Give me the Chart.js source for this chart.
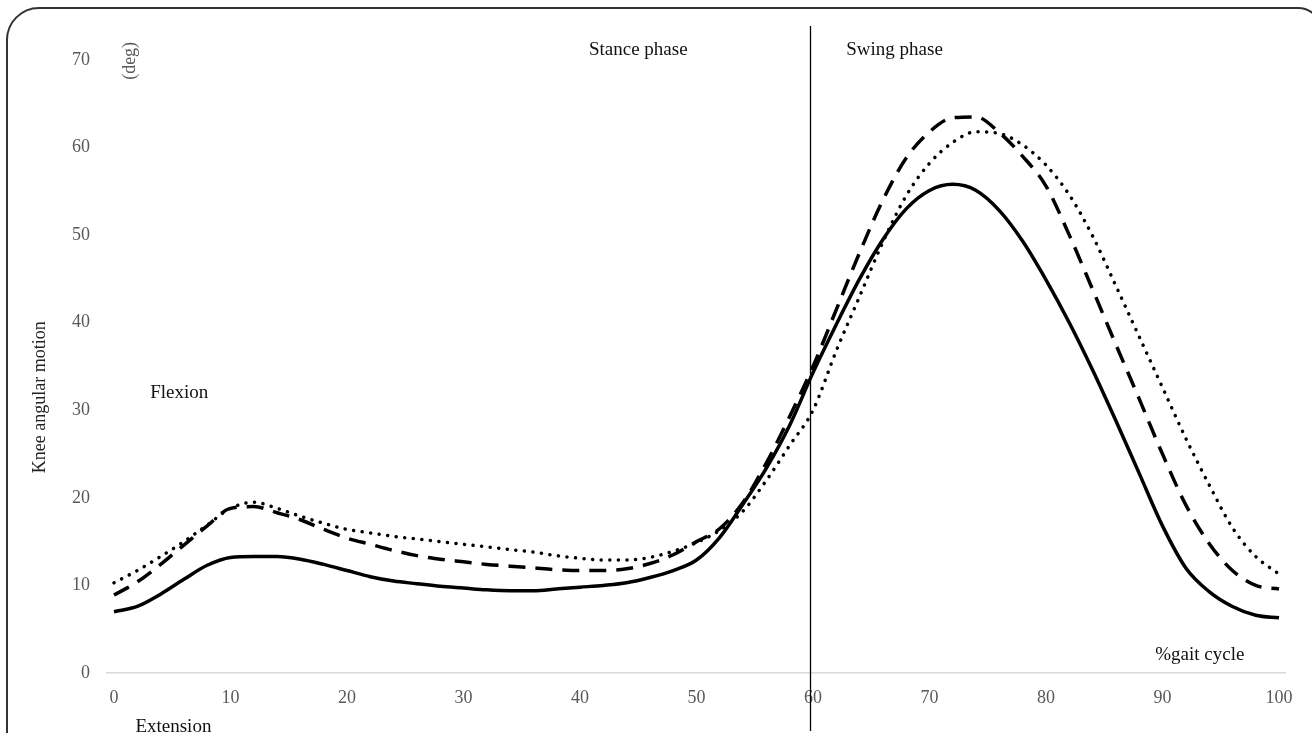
<!DOCTYPE html>
<html>
<head>
<meta charset="utf-8">
<title>Knee angular motion</title>
<script src="https://cdn.jsdelivr.net/npm/chart.js@4.4.1/dist/chart.umd.min.js"></script>
<style>
  html, body { margin: 0; padding: 0; background: #fff; }
  #wrap { position: relative; width: 1312px; height: 733px; }
</style>
</head>
<body>
<div id="wrap">
  <canvas id="chart" width="1312" height="733" aria-label="Knee angular motion"></canvas>
</div>
<script>
// % gait cycle
const gaitPct = [0, 2, 4, 6, 8, 10, 12, 14, 16, 18, 20, 22, 24, 26, 28, 30, 32, 34, 36, 38, 40,
  42, 44, 46, 48, 50, 52, 54, 56, 58, 60, 62, 64, 66, 68, 70, 72, 74, 76, 78, 80,
  82, 84, 86, 88, 90, 92, 94, 96, 98, 100];

// knee angle (deg)
const solidLine = [7.0, 7.6, 9.0, 10.7, 12.3, 13.2, 13.3, 13.3, 13.0, 12.4, 11.7,
  11.0, 10.5, 10.2, 9.9, 9.7, 9.5, 9.4, 9.4, 9.6, 9.8,
  10.0, 10.3, 10.9, 11.7, 12.9, 15.5, 19.3, 23.4, 28.3, 34.3,
  39.8, 45.0, 49.5, 53.0, 55.1, 55.8, 55.1, 52.8, 49.3, 44.9,
  40.0, 34.6, 28.8, 22.8, 16.8, 12.0, 9.3, 7.6, 6.6, 6.3];

const dashedLine = [8.9, 10.4, 12.4, 14.6, 16.8, 18.8, 19.0, 18.3, 17.5, 16.4, 15.4,
  14.7, 14.0, 13.4, 13.0, 12.7, 12.4, 12.2, 12.0, 11.8, 11.7,
  11.7, 11.9, 12.5, 13.5, 15.0, 16.5, 19.5, 24.0, 29.3, 35.0,
  41.5, 48.0, 54.0, 58.8, 61.8, 63.4, 63.5, 61.7, 59.0, 55.6,
  50.0, 43.8, 37.5, 31.3, 25.0, 19.2, 14.8, 11.7, 10.0, 9.6];

const dottedLine = [10.3, 11.7, 13.3, 15.0, 16.9, 18.8, 19.5, 18.8, 17.9, 17.1, 16.4,
  16.0, 15.6, 15.3, 15.0, 14.7, 14.4, 14.1, 13.8, 13.4, 13.1,
  12.9, 12.9, 13.2, 13.9, 14.9, 16.3, 18.5, 22.0, 26.0, 30.0,
  36.8, 43.0, 49.2, 54.5, 58.2, 60.6, 61.8, 61.6, 60.3, 58.0,
  54.6, 49.9, 44.2, 38.4, 32.6, 26.8, 21.5, 16.6, 13.3, 11.3];

const xTickValues = [0, 10, 20, 30, 40, 50, 60, 70, 80, 90, 100];
const yTickValues = [0, 10, 20, 30, 40, 50, 60, 70];
const phaseBoundary = 59.7; // stance / swing divider as drawn

const SERIF = '"Liberation Serif", "Times New Roman", serif';

function toPoints(ys) {
  return gaitPct.map((x, i) => ({ x: x, y: ys[i] }));
}

function lineDataset(label, ys, dash, cap) {
  return {
    label: label,
    data: toPoints(ys),
    borderColor: '#000',
    borderWidth: 3.5,
    borderDash: dash,
    borderCapStyle: cap,
    borderJoinStyle: 'round',
    pointRadius: 0,
    cubicInterpolationMode: 'monotone',
    fill: false,
  };
}

// frame, phase divider and free text
const decorations = {
  id: 'decorations',
  beforeDraw(chart) {
    const ctx = chart.ctx;
    ctx.save();
    ctx.strokeStyle = '#333';
    ctx.lineWidth = 2;
    ctx.beginPath();
    ctx.moveTo(7, 760);
    ctx.lineTo(7, 40);
    ctx.arcTo(7, 8, 39, 8, 32);
    ctx.lineTo(1298, 8);
    ctx.arcTo(1322, 8, 1322, 32, 24);
    ctx.stroke();
    ctx.restore();
  },
  afterDraw(chart) {
    const ctx = chart.ctx;
    const xs = chart.scales.x;
    const ys = chart.scales.y;
    ctx.save();

    const vx = Math.round(xs.getPixelForValue(phaseBoundary)) + 0.5;
    ctx.strokeStyle = '#000';
    ctx.lineWidth = 1.3;
    ctx.beginPath();
    ctx.moveTo(vx, 26);
    ctx.lineTo(vx, 731);
    ctx.stroke();

    ctx.textAlign = 'center';
    ctx.textBaseline = 'middle';
    ctx.fillStyle = '#111';
    ctx.font = '19px ' + SERIF;
    const notes = [
      ['Stance phase', 45.0, 71.1],
      ['Swing phase', 67.0, 71.1],
      ['Flexion', 5.6, 32.0],
      ['Extension', 5.1, -6.2],
      ['%gait cycle', 93.2, 2.05],
    ];
    notes.forEach(([t, x, y]) => {
      ctx.fillText(t, xs.getPixelForValue(x), ys.getPixelForValue(y));
    });

    ctx.fillStyle = '#222';
    ctx.font = '18px ' + SERIF;
    ctx.save();
    ctx.translate(chart.chartArea.left - 67, ys.getPixelForValue(31.5));
    ctx.rotate(-Math.PI / 2);
    ctx.fillText('Knee angular motion', 0, 0);
    ctx.restore();

    ctx.fillStyle = '#595959';
    ctx.save();
    ctx.translate(xs.getPixelForValue(1.37), ys.getPixelForValue(69.9));
    ctx.rotate(-Math.PI / 2);
    ctx.fillText('(deg)', 0, 0);
    ctx.restore();

    ctx.restore();
  },
};

new Chart(document.getElementById('chart'), {
  type: 'line',
  data: {
    datasets: [
      lineDataset('solid', solidLine, [], 'butt'),
      lineDataset('dashed', dashedLine, [17, 10], 'butt'),
      lineDataset('dotted', dottedLine, [0.1, 8.5], 'round'),
    ],
  },
  options: {
    responsive: false,
    animation: false,
    layout: { padding: { left: 0, top: 60, right: 27, bottom: 0 } },
    plugins: { legend: { display: false }, tooltip: { enabled: false }, title: { display: false } },
    scales: {
      x: {
        type: 'linear',
        min: -0.6,
        max: 100.515,
        grid: { display: false, drawTicks: false },
        border: { display: true, color: '#d9d9d9', width: 1.5 },
        afterBuildTicks(scale) { scale.ticks = xTickValues.map(v => ({ value: v })); },
        afterFit(scale) { scale.height = 60; },
        ticks: {
          color: '#595959',
          font: { family: SERIF, size: 18 },
          padding: 14,
          maxRotation: 0,
          autoSkip: false,
        },
      },
      y: {
        type: 'linear',
        min: 0,
        max: 70,
        grid: { display: false, drawTicks: false },
        border: { display: false },
        afterBuildTicks(scale) { scale.ticks = yTickValues.map(v => ({ value: v })); },
        afterFit(scale) { scale.width = 107; },
        ticks: {
          color: '#595959',
          font: { family: SERIF, size: 18 },
          padding: 17,
        },
      },
    },
  },
  plugins: [decorations],
});
</script>
</body>
</html>
